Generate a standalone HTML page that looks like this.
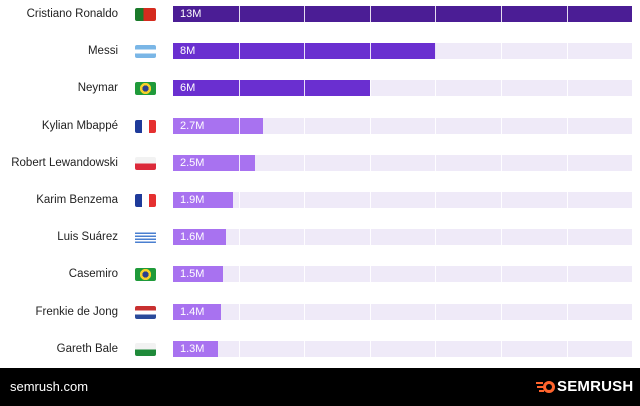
<!DOCTYPE html>
<html><head><meta charset="utf-8"><style>
body{margin:0;width:640px;height:406px;background:#fff;font-family:"Liberation Sans",sans-serif;position:relative;overflow:hidden}
.row{position:absolute;left:0;width:640px;height:16px}
.lbl{position:absolute;right:522px;top:0;line-height:16px;font-size:11.5px;color:#222;white-space:nowrap}
.flag{position:absolute;left:135px;top:2px;width:21px;height:13px;border-radius:2px;overflow:hidden}
.track{position:absolute;left:173px;top:0;width:459px;height:16px;background:#efeaf8}
.bar{position:absolute;left:173px;top:0;height:16px}
.val{position:absolute;left:180px;top:0;line-height:16px;font-size:11px;color:#fff}
.grid{position:absolute;top:0;width:1px;height:16px;background:rgba(255,255,255,.85)}
.foot{position:absolute;left:0;top:368px;width:640px;height:38px;background:#000;color:#fff}
</style></head><body>
<div id="c"></div>
<div class="foot">
<div style="position:absolute;left:10px;top:11px;font-size:13px">semrush.com</div>
<svg style="position:absolute;left:536px;top:12px" width="20" height="14" viewBox="0 0 20 14"><path d="M0 3h7M1 7h6M3 11h5" stroke="#ff642d" stroke-width="2"/><circle cx="13" cy="7" r="6" fill="#ff642d"/><circle cx="13" cy="7" r="3" fill="#000"/></svg>
<div style="position:absolute;left:557px;top:10px;font-size:15px;font-weight:bold;letter-spacing:0.2px">SEMRUSH</div>
</div>
<script>
const d=[["Cristiano Ronaldo","13M",459,"#4b1d95","pt"],["Messi","8M",263,"#6a2fd0","ar"],["Neymar","6M",197,"#6a2fd0","br"],["Kylian Mbappé","2.7M",90,"#a872f0","fr"],["Robert Lewandowski","2.5M",82,"#a872f0","pl"],["Karim Benzema","1.9M",60,"#a872f0","fr"],["Luis Suárez","1.6M",53,"#a872f0","uy"],["Casemiro","1.5M",50,"#a872f0","br"],["Frenkie de Jong","1.4M",48,"#a872f0","nl"],["Gareth Bale","1.3M",45,"#a872f0","wa"]];
const f={pt:"linear-gradient(90deg,#1a7a2a 40%,#d52b1e 40%)",ar:"linear-gradient(#7ab6e6 33%,#fff 33%,#fff 66%,#7ab6e6 66%)",br:"radial-gradient(circle,#2a3f8f 25%,#f6d02a 26%,#f6d02a 45%,#1f9a3a 46%)",fr:"linear-gradient(90deg,#1e3a9a 33%,#fff 33%,#fff 66%,#e53030 66%)",pl:"linear-gradient(#f2f2f2 50%,#dc2a3a 50%)",uy:"repeating-linear-gradient(#fff 0 1.5px,#4a7fd0 1.5px 3px)",nl:"linear-gradient(#c83030 33%,#fff 33%,#fff 66%,#2a4a9a 66%)",wa:"linear-gradient(#f2f2f2 50%,#1f8a3a 50%)"};
let h="";d.forEach((r,i)=>{const y=6+i*37.2;let g="";for(let k=1;k<7;k++){const x=173+k*65.6;g+=`<div class="grid" style="left:${x}px;${x>173+r[2]?'background:rgba(255,255,255,.9)':''}"></div>`}
h+=`<div class="row" style="top:${y}px"><div class="lbl">${r[0]}</div><div class="flag" style="background:${f[r[4]]}"></div><div class="track"></div><div class="bar" style="width:${r[2]}px;background:${r[3]}"></div>${g}<div class="val">${r[1]}</div></div>`});
document.getElementById("c").innerHTML=h;
</script>
</body></html>
